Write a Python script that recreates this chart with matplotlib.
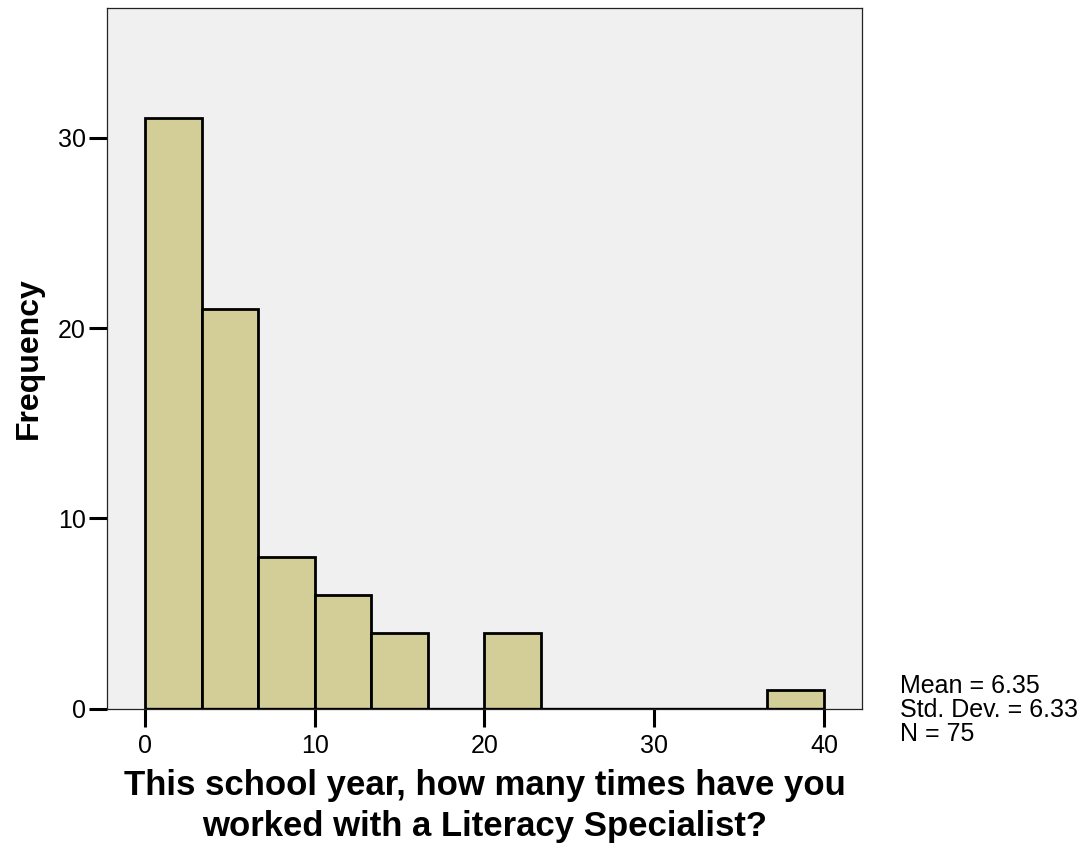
import matplotlib.pyplot as plt
import numpy as np

# histogram counts (12 bins from 0 to 40)
bin_lo = 0
bin_hi = 40
counts = [31, 21, 8, 6, 4, 0, 4, 0, 0, 0, 0, 1]
xticks = [0, 10, 20, 30, 40]
yticks = [0, 10, 20, 30]
stats = ["Mean = 6.35", "Std. Dev. = 6.33", "N = 75"]

plt.rcParams['font.family'] = ['Liberation Sans', 'DejaVu Sans']

fig = plt.figure(figsize=(10.88, 8.5), dpi=100)
ax = fig.add_axes([0.0983, 0.1659, 0.694, 0.8247])
ax.set_facecolor('#f0f0f0')

edges = np.linspace(bin_lo, bin_hi, len(counts) + 1)
width = edges[1] - edges[0]
for left, c in zip(edges[:-1], counts):
    if c > 0:
        ax.bar(left, c, width=width, align='edge', color='#d3ce97',
               edgecolor='black', linewidth=2.0, zorder=2)

# thick baseline between first and last bin edges
ax.plot([bin_lo, bin_hi], [0, 0], color='black', linewidth=2.4, zorder=3,
        solid_capstyle='butt')

ax.set_xlim(-2.24, 42.24)
ax.set_ylim(0, 36.8)

for s in ax.spines.values():
    s.set_linewidth(0.9)
    s.set_color('#222222')

ax.set_xticks(xticks)
ax.set_yticks(yticks)
ax.tick_params(axis='both', direction='out', length=13, width=2.2,
               labelsize=18, color='black')
ax.tick_params(axis='x', pad=5)
ax.tick_params(axis='y', pad=2)

ax.set_xlabel("This school year, how many times have you\nworked with a Literacy Specialist?",
              fontsize=25, fontweight='bold', labelpad=8, linespacing=1.3)
ax.set_ylabel("Frequency", fontsize=23, fontweight='bold', labelpad=10)

fig.text(900 / 1088, 1 - 710 / 850, "\n".join(stats), fontsize=18,
         va='center', ha='left', linespacing=1.0)

fig.savefig('out.png', dpi=100)
